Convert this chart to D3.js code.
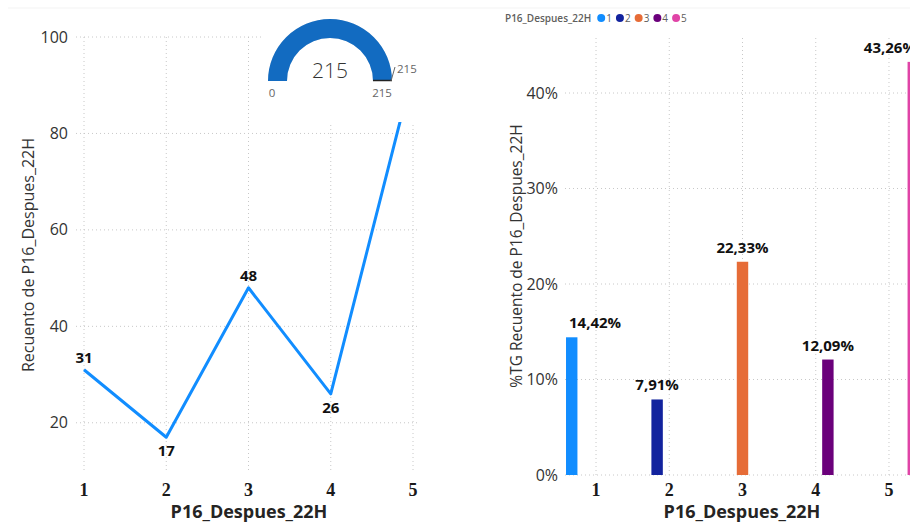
<!DOCTYPE html>
<html><head><meta charset="utf-8">
<script src="https://cdn.jsdelivr.net/npm/d3@7"></script>
<style>html,body{margin:0;padding:0;background:#fff;overflow:hidden}</style>
</head><body>
<script>
// ---- data ----
const categories = ["1","2","3","4","5"];
const counts = [31, 17, 48, 26, 93];
const pctValues = [14.42, 7.91, 22.33, 12.09, 43.26];
const pctLabels = ["14,42%","7,91%","22,33%","12,09%","43,26%"];
const seriesColors = ["#118DFF","#12239E","#E66C37","#6B007B","#E044A7"];
const lineTicks = [20, 40, 60, 80, 100];
const pctTicks = [0, 10, 20, 30, 40];
const gaugeMin = 0, gaugeMax = 215, gaugeValue = 215, gaugeTarget = 215;
const fieldName = "P16_Despues_22H";

const W = 910, H = 524;
const sans = "'Open Sans','Noto Sans',sans-serif";
const serif = "'Liberation Serif','DejaVu Serif',serif";
const svg = d3.select("body").append("svg").attr("width", W).attr("height", H)
  .style("font-family", sans);
svg.append("rect").attr("width", W).attr("height", H).attr("fill", "#fff");
svg.append("line").attr("x1", 8).attr("x2", W).attr("y1", 8).attr("y2", 8)
  .attr("stroke", "#f3f3f3").attr("stroke-width", 1);

// ================= LEFT: line chart =================
const xL = d3.scalePoint().domain(categories).range([84, 413]);
const yL = d3.scaleLinear().domain([10, 100]).range([471, 37]);
const gL = svg.append("g");
gL.selectAll("line.h").data(lineTicks).join("line")
  .attr("x1", 76).attr("x2", 418).attr("y1", d => yL(d)).attr("y2", d => yL(d))
  .attr("stroke", "#c8c8c8").attr("stroke-dasharray", "1,3");
gL.selectAll("line.v").data(categories).join("line")
  .attr("x1", d => xL(d)).attr("x2", d => xL(d)).attr("y1", yL(100)).attr("y2", yL(10))
  .attr("stroke", "#c8c8c8").attr("stroke-dasharray", "1,3");
gL.selectAll("text.yt").data(lineTicks).join("text")
  .attr("x", 68).attr("y", d => yL(d)).attr("dy", "0.35em").attr("text-anchor", "end")
  .attr("font-size", 16).attr("fill", "#333").text(d => d);
gL.append("path").datum(counts)
  .attr("d", d3.line().x((d, i) => xL(categories[i])).y(d => yL(d)))
  .attr("fill", "none").attr("stroke", "#118DFF").attr("stroke-width", 3).attr("stroke-linejoin", "round");
gL.selectAll("text.lbl").data(counts).join("text")
  .attr("x", (d, i) => xL(categories[i]))
  .attr("y", (d, i) => {
    const prev = i > 0 ? counts[i - 1] : Infinity, next = i < counts.length - 1 ? counts[i + 1] : Infinity;
    return (d < prev && d < next) ? yL(d) + 19 : yL(d) - 7;
  })
  .attr("text-anchor", "middle").attr("font-size", 15).attr("font-weight", "bold").attr("fill", "#111")
  .text(d => d);
gL.selectAll("text.xt").data(categories).join("text")
  .attr("x", d => xL(d)).attr("y", 496).attr("text-anchor", "middle")
  .attr("font-family", serif).attr("font-size", 18).attr("font-weight", "bold").attr("fill", "#1a1a1a").text(d => d);
gL.append("text").attr("x", 249).attr("y", 518).attr("text-anchor", "middle")
  .attr("font-size", 18).attr("font-weight", "bold").attr("fill", "#252423").text(fieldName);
gL.append("text").attr("transform", "translate(28,255) rotate(-90)").attr("dy", "0.35em")
  .attr("text-anchor", "middle").attr("font-size", 16).attr("fill", "#333")
  .text("Recuento de " + fieldName);

// ================= GAUGE (overlay) =================
const gG = svg.append("g");
gG.append("rect").attr("x", 263).attr("y", 9).attr("width", 161).attr("height", 113).attr("fill", "#fff");
const gc = { x: 330, y: 81 };
const ang = d3.scaleLinear().domain([gaugeMin, gaugeMax]).range([-Math.PI / 2, Math.PI / 2]);
const gArc = d3.arc().innerRadius(43).outerRadius(62);
gG.append("path").attr("transform", `translate(${gc.x},${gc.y})`)
  .attr("d", gArc({ startAngle: ang(gaugeMin), endAngle: ang(gaugeMax) })).attr("fill", "#e6e6e6");
gG.append("path").attr("transform", `translate(${gc.x},${gc.y})`)
  .attr("d", gArc({ startAngle: ang(gaugeMin), endAngle: ang(gaugeValue) })).attr("fill", "#126BC1");
const ta = ang(gaugeTarget);
const tx = r => gc.x + r * Math.sin(ta), ty = r => gc.y - r * Math.cos(ta);
gG.append("line").attr("x1", tx(43)).attr("y1", ty(43) - 0.5).attr("x2", tx(62)).attr("y2", ty(62) - 0.5)
  .attr("stroke", "#222").attr("stroke-width", 1.5);
gG.append("line").attr("x1", tx(61)).attr("y1", ty(61)).attr("x2", tx(65)).attr("y2", ty(61) - 14)
  .attr("stroke", "#666").attr("stroke-width", 1);
gG.append("text").attr("x", tx(67)).attr("y", ty(62) - 8).attr("font-size", 11.5).attr("fill", "#666").text(gaugeTarget);
gG.append("text").attr("x", gc.x).attr("y", 78).attr("text-anchor", "middle")
  .attr("font-size", 21).attr("font-weight", 300).attr("fill", "#333").text(gaugeValue);
gG.append("text").attr("x", gc.x - 58).attr("y", 97).attr("text-anchor", "middle")
  .attr("font-size", 11.5).attr("fill", "#666").text(gaugeMin);
gG.append("text").attr("x", gc.x + 52).attr("y", 97).attr("text-anchor", "middle")
  .attr("font-size", 11.5).attr("fill", "#666").text(gaugeMax);

// ================= RIGHT: clustered bar chart =================
const xB = d3.scaleBand().domain(categories).range([559.4, 925.6]);
const xSub = d3.scaleBand().domain(categories).range([-30, 30]).paddingInner(0.06);
const yB = d3.scaleLinear().domain([0, 45.76]).range([475, 38]);
const cx = c => xB(c) + xB.bandwidth() / 2;
const gB = svg.append("g");
gB.selectAll("line.h").data(pctTicks).join("line")
  .attr("x1", 565).attr("x2", W).attr("y1", d => yB(d)).attr("y2", d => yB(d))
  .attr("stroke", "#c8c8c8").attr("stroke-dasharray", "1,3");
gB.selectAll("line.v").data(categories).join("line")
  .attr("x1", d => cx(d)).attr("x2", d => cx(d)).attr("y1", 38).attr("y2", yB(0))
  .attr("stroke", "#c8c8c8").attr("stroke-dasharray", "1,3");
gB.selectAll("text.yt").data(pctTicks).join("text")
  .attr("x", 558).attr("y", d => yB(d)).attr("dy", "0.35em").attr("text-anchor", "end")
  .attr("font-size", 16).attr("fill", "#333").text(d => d + "%");
gB.selectAll("rect.bar").data(pctValues).join("rect")
  .attr("x", (d, i) => cx(categories[i]) + xSub(categories[i]))
  .attr("width", xSub.bandwidth())
  .attr("y", d => yB(d)).attr("height", d => yB(0) - yB(d))
  .attr("fill", (d, i) => seriesColors[i]);
gB.selectAll("text.lbl").data(pctValues).join("text")
  .attr("x", (d, i) => {
    const bx = cx(categories[i]) + xSub(categories[i]);
    if (i === 0) return bx + 3;
    if (i === pctValues.length - 1) return bx + xSub.bandwidth() - 3;
    return bx + xSub.bandwidth() / 2;
  })
  .attr("text-anchor", (d, i) => i === 0 ? "start" : (i === pctValues.length - 1 ? "end" : "middle"))
  .attr("y", d => yB(d) - 9)
  .attr("font-size", 15).attr("font-weight", "bold").attr("fill", "#111")
  .text((d, i) => pctLabels[i]);
gB.selectAll("text.xt").data(categories).join("text")
  .attr("x", d => cx(d)).attr("y", 496).attr("text-anchor", "middle")
  .attr("font-family", serif).attr("font-size", 18).attr("font-weight", "bold").attr("fill", "#1a1a1a").text(d => d);
gB.append("text").attr("x", 742).attr("y", 518).attr("text-anchor", "middle")
  .attr("font-size", 18).attr("font-weight", "bold").attr("fill", "#252423").text(fieldName);
gB.append("text").attr("transform", "translate(517,256) rotate(-90)").attr("dy", "0.35em")
  .attr("text-anchor", "middle").attr("font-size", 15.5).attr("fill", "#333")
  .text("%TG Recuento de " + fieldName);

// legend
const gLeg = svg.append("g").attr("transform", "translate(505,18)");
const legTitle = gLeg.append("text").attr("x", 0).attr("y", 3.5).attr("font-size", 10)
  .attr("font-weight", 600).attr("fill", "#605E5C").text(fieldName);
let lx = legTitle.node().getComputedTextLength() + 10;
categories.forEach((c, i) => {
  gLeg.append("circle").attr("cx", lx).attr("cy", 0).attr("r", 4).attr("fill", seriesColors[i]);
  const t = gLeg.append("text").attr("x", lx + 5).attr("y", 3.5).attr("font-size", 10).attr("fill", "#605E5C").text(c);
  lx += 5 + t.node().getComputedTextLength() + 8;
});
</script>
</body></html>
